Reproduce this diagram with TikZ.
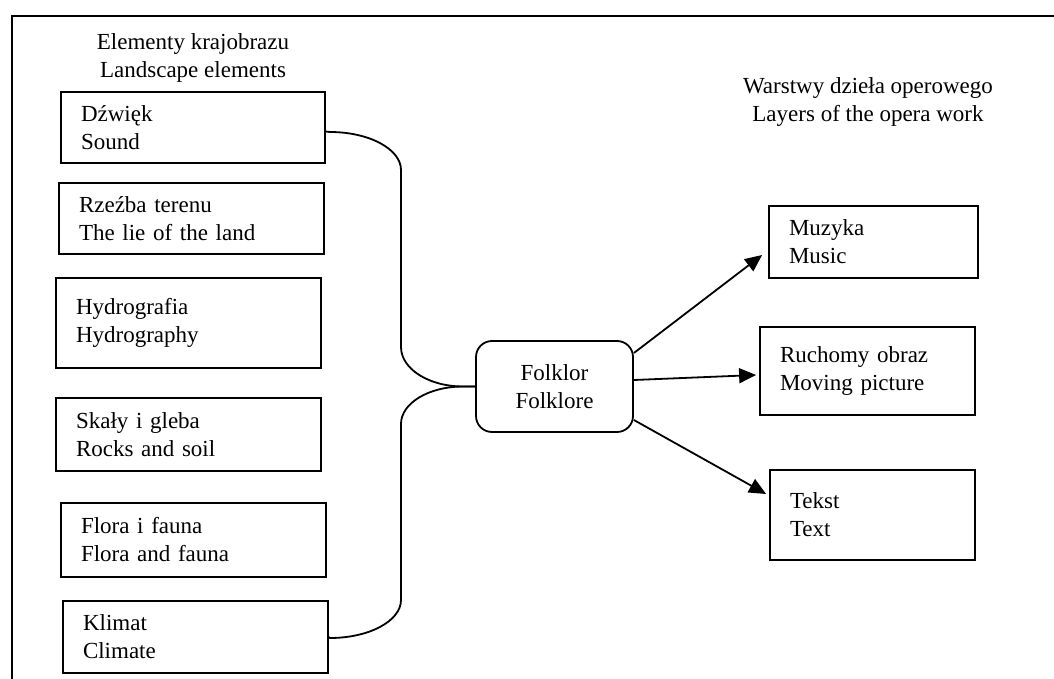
\documentclass[tikz,border=0pt]{standalone}
\usepackage{fontspec}
\setmainfont{Liberation Serif}
\usetikzlibrary{arrows.meta}
\begin{document}
\begin{tikzpicture}[x=1pt,y=-1pt,
  every node/.style={font=\fontsize{23}{28}\selectfont},
  elbox/.style={draw,line width=1.8pt,rectangle,align=left,inner xsep=20pt,inner ysep=0pt},
  folkbox/.style={draw,line width=1.8pt,rectangle,rounded corners=16pt,align=center,minimum width=157pt,minimum height=91pt},
  title/.style={align=center,inner sep=0pt},
  conn/.style={line width=1.8pt},
  arr/.style={line width=1.8pt,-{Triangle[length=17pt,width=15pt]}}
]
\useasboundingbox (0,0) rectangle (1054,679);
% frame
\draw[line width=1.8pt] (12,679) -- (12,16) -- (1054,16);

\node[title] (t1) at (193,58) {Elementy krajobrazu\\Landscape elements};
\node[title] (t2) at (868,102) {Warstwy dzieła operowego\\Layers of the opera work};

\node[elbox,text width=224pt,minimum height=71pt] (dz) at (193,127.5) {Dźwięk\\Sound};
\node[elbox,text width=225pt,minimum height=71pt] (rz) at (191.5,218.5) {Rzeźba terenu\\The lie of the land};
\node[elbox,text width=225pt,minimum height=90pt] (hy) at (188.5,323) {Hydrografia\\Hydrography};
\node[elbox,text width=225pt,minimum height=73pt] (sk) at (188.5,434.5) {Skały i gleba\\Rocks and soil};
\node[elbox,text width=225pt,minimum height=74pt] (fl) at (193.5,540) {Flora i fauna\\Flora and fauna};
\node[elbox,text width=225pt,minimum height=72pt] (kl) at (195.5,637) {Klimat\\Climate};

\node[folkbox] (fo) at (554.5,386.5) {Folklor\\Folklore};

\node[elbox,text width=169pt,minimum height=72pt] (mu) at (873.5,242) {Muzyka\\Music};
\node[elbox,text width=175pt,minimum height=88pt] (ru) at (867.5,371) {Ruchomy obraz\\Moving picture};
\node[elbox,text width=165pt,minimum height=90pt] (te) at (872.5,515) {Tekst\\Text};

\draw[conn] ([yshift=-4pt]dz.east) -- (330,132) .. controls (369,132) and (401,149) .. (401,170)
  -- (401,347) .. controls (401,369) and (429,386.5) .. (463,386.5) -- (fo.west);
\draw[conn] (kl.east) -- (330,638) .. controls (369,638) and (401,621) .. (401,600)
  -- (401,424) .. controls (401,403) and (429,386.5) .. (463,386.5) -- (fo.west);

\draw[arr] ([yshift=33.5pt]fo.east) -- ([xshift=-6pt,yshift=-13pt]mu.west);
\draw[arr] ([yshift=6.5pt]fo.east) -- ([xshift=-3pt,yshift=-4pt]ru.west);
\draw[arr] ([yshift=-33.5pt]fo.east) -- ([xshift=-3pt,yshift=21pt]te.west);
\end{tikzpicture}
\end{document}
